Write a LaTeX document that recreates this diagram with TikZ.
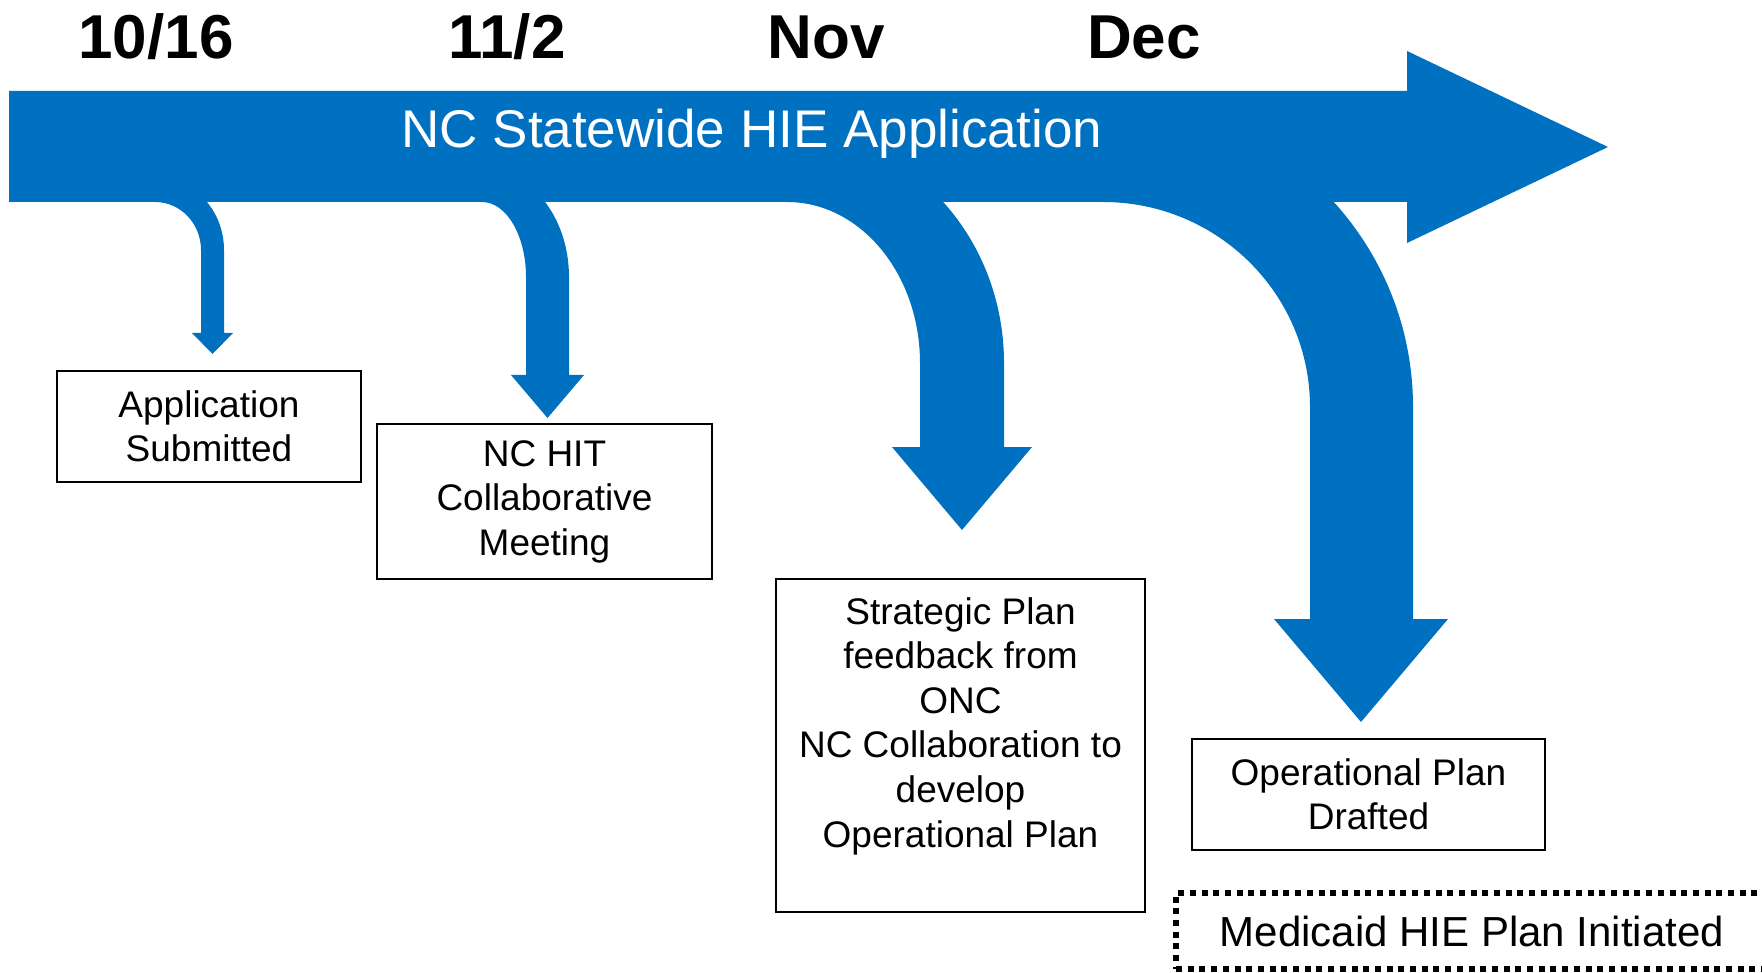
\documentclass[tikz,border=0pt]{standalone}
\usepackage{fontspec}
\setmainfont{Liberation Sans}
\usetikzlibrary{positioning,calc}
\definecolor{hieblue}{RGB}{0,112,192}

\begin{document}
\begin{tikzpicture}[x=1pt, y=-1pt, line join=miter,
  band/.style={fill=hieblue, draw=none},
  box/.style={draw, line width=1.6pt, inner sep=0pt, align=center, font=\fontsize{37}{44.5}\selectfont},
  date/.style={anchor=base, font=\bfseries\fontsize{62}{70}\selectfont}]
\path[use as bounding box, clip] (0,0) rectangle (1762,973);

% months along the top
\node[date] (oct16) at (156,59)  {10/16};
\node[date] (nov2)  at (507,59)  {11/2};
\node[date] (nov)   at (826,59)  {Nov};
\node[date] (dec)   at (1144,59) {Dec};

% branches bending down out of the band
\fill[band] (155,202) .. controls (180.4,202) and (201,223.5) .. (201,250) -- (201,333) -- (192,333)
  -- (212.5,354) -- (233,333) -- (224,333) -- (224,250) .. controls (224,209.7) and (193.1,177) .. (155,177) -- cycle;
\fill[band] (482,202) .. controls (506.3,202) and (526,235.6) .. (526,277) -- (526,375) -- (511,375)
  -- (547.5,418) -- (584,375) -- (569,375) -- (569,277) .. controls (569,216.8) and (530,168) .. (482,168) -- cycle;
\fill[band] (787,202) .. controls (860.5,202) and (920,274.1) .. (920,363) -- (920,447) -- (892,447)
  -- (962,530) -- (1032,447) -- (1004,447) -- (1004,363) .. controls (1004,234.9) and (906.8,131) .. (787,131) -- cycle;
\fill[band] (1103,202) .. controls (1217.3,202) and (1310,293.8) .. (1310,407) -- (1310,619) -- (1274,619)
  -- (1361,722) -- (1448,619) -- (1413,619) -- (1413,407) .. controls (1413,237.4) and (1274.2,100) .. (1103,100) -- cycle;

% main band
\fill[band] (9,91) -- (1407,91) -- (1407,51) -- (1608,147) -- (1407,243) -- (1407,202) -- (9,202) -- cycle;
\node[anchor=base, text=white, font=\fontsize{53}{60}\selectfont] (title) at (752,148) {NC Statewide HIE Application};

% boxes
\node[box, minimum width=304pt, minimum height=111pt] (submitted) at (209,426.5) {Application\\Submitted};
\node[box, minimum width=335pt, minimum height=155pt] (meeting) at (544.5,501.5) {NC HIT\\Collaborative\\Meeting};
\node[box, minimum width=369pt, minimum height=333pt] (strategic) at (960.5,745.5) {};
\node[align=center, inner sep=0pt, font=\fontsize{37}{44.6}\selectfont] (strattext) at (960.5,726)
  {Strategic Plan\\feedback from\\ONC\\NC Collaboration to\\develop\\Operational Plan};
\node[box, minimum width=353pt, minimum height=111pt] (drafted) at (1368.5,794.5) {Operational Plan\\Drafted};
\node[box, line width=6pt, dash pattern=on 6pt off 5.7pt, minimum width=592pt, minimum height=76pt,
  font=\fontsize{42}{48}\selectfont] (medicaid) at (1472,931) {Medicaid HIE Plan Initiated};
\end{tikzpicture}
\end{document}
